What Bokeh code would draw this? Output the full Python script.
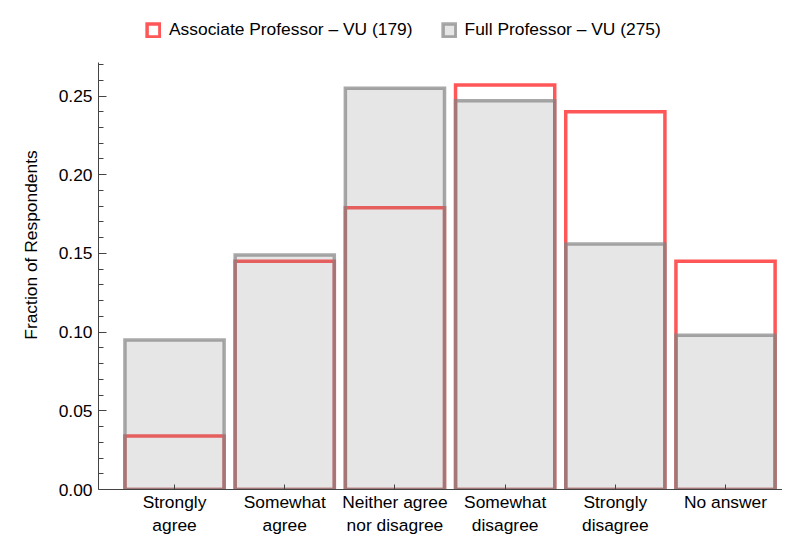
from bokeh.plotting import figure
from bokeh.models import (Range1d, FixedTicker, PrintfTickFormatter, Legend, LegendItem,
                          LinearAxis)
from bokeh.embed import file_html
from bokeh.resources import INLINE

cat_line1 = ["Strongly", "Somewhat", "Neither agree", "Somewhat", "Strongly", "No answer"]
cat_line2 = ["agree", "agree", "nor disagree", "disagree", "disagree", ""]
assoc = [0.034, 0.145, 0.179, 0.257, 0.240, 0.145]
full = [0.095, 0.149, 0.255, 0.247, 0.156, 0.098]
y_ticks = [0.0, 0.05, 0.10, 0.15, 0.20, 0.25]
y_minor = [0.01, 0.02, 0.03, 0.04, 0.06, 0.07, 0.08, 0.09, 0.11, 0.12, 0.13, 0.14,
           0.16, 0.17, 0.18, 0.19, 0.21, 0.22, 0.23, 0.24, 0.26, 0.27]
assoc_label = "Associate Professor \u2013 VU (179)"
full_label = "Full Professor \u2013 VU (275)"

FONT = "Liberation Sans"
FS = "17.4px"

xs = list(range(len(cat_line1)))

p = figure(width=782, height=537, output_backend="svg", toolbar_location=None,
           x_range=Range1d(-0.690, 5.517), y_range=Range1d(0, 0.3107),
           min_border_left=98, min_border_right=0, min_border_top=0, min_border_bottom=47)
p.outline_line_color = None
p.xgrid.visible = False
p.ygrid.visible = False
p.background_fill_color = "white"
p.border_fill_color = "white"

r_assoc = p.vbar(x=xs, top=assoc, bottom=0, width=0.9, fill_color=None,
                 line_color="#FF5757", line_width=3.5, line_join="miter")
r_full = p.vbar(x=xs, top=full, bottom=0, width=0.9, fill_color="#808080", fill_alpha=0.2,
                line_color="#838383", line_alpha=0.7, line_width=3.5, line_join="miter")

ax = p.yaxis[0]
ax.ticker = FixedTicker(ticks=y_ticks, minor_ticks=y_minor)
ax.formatter = PrintfTickFormatter(format="%.2f")
ax.bounds = (0, 0.271)
ax.axis_line_color = "#444444"
ax.major_tick_line_color = "#444444"
ax.minor_tick_line_color = "#444444"
ax.major_tick_in = 8
ax.major_tick_out = 0
ax.minor_tick_in = 5
ax.minor_tick_out = 0
ax.major_label_standoff = 6
ax.major_label_text_font = FONT
ax.major_label_text_font_size = FS
ax.major_label_text_color = "black"
ax.axis_label = "Fraction of Respondents"
ax.axis_label_text_font = FONT
ax.axis_label_text_font_size = FS
ax.axis_label_text_font_style = "normal"
ax.axis_label_text_color = "black"
ax.axis_label_standoff = 15

bx = p.xaxis[0]
bx.ticker = FixedTicker(ticks=xs, minor_ticks=[])
bx.major_label_overrides = {i: c for i, c in zip(xs, cat_line1)}
bx.axis_line_color = "#444444"
bx.major_tick_line_color = "#444444"
bx.major_tick_in = 5
bx.major_tick_out = 0
bx.minor_tick_in = 0
bx.minor_tick_out = 0
bx.major_label_standoff = 2
bx.major_label_text_font = FONT
bx.major_label_text_font_size = FS
bx.major_label_text_color = "black"

bx2 = LinearAxis(ticker=FixedTicker(ticks=xs, minor_ticks=[]),
                 major_label_overrides={i: c for i, c in zip(xs, cat_line2)})
bx2.axis_line_color = None
bx2.major_tick_line_color = None
bx2.minor_tick_line_color = None
bx2.major_tick_in = 0
bx2.major_tick_out = 0
bx2.minor_tick_in = 0
bx2.minor_tick_out = 0
bx2.major_label_standoff = 0
bx2.major_label_text_font = FONT
bx2.major_label_text_font_size = FS
bx2.major_label_text_color = "black"
p.add_layout(bx2, "below")

legend = Legend(items=[LegendItem(label=assoc_label, renderers=[r_assoc]),
                       LegendItem(label=full_label, renderers=[r_full])],
                orientation="horizontal", location=(47, 449),
                border_line_color=None, background_fill_alpha=0,
                glyph_width=16, glyph_height=16, label_standoff=8, spacing=28,
                padding=0, margin=0,
                label_text_font=FONT, label_text_font_size=FS, label_text_color="black")
p.add_layout(legend)

open("out.html", "w").write(file_html(p, INLINE))
